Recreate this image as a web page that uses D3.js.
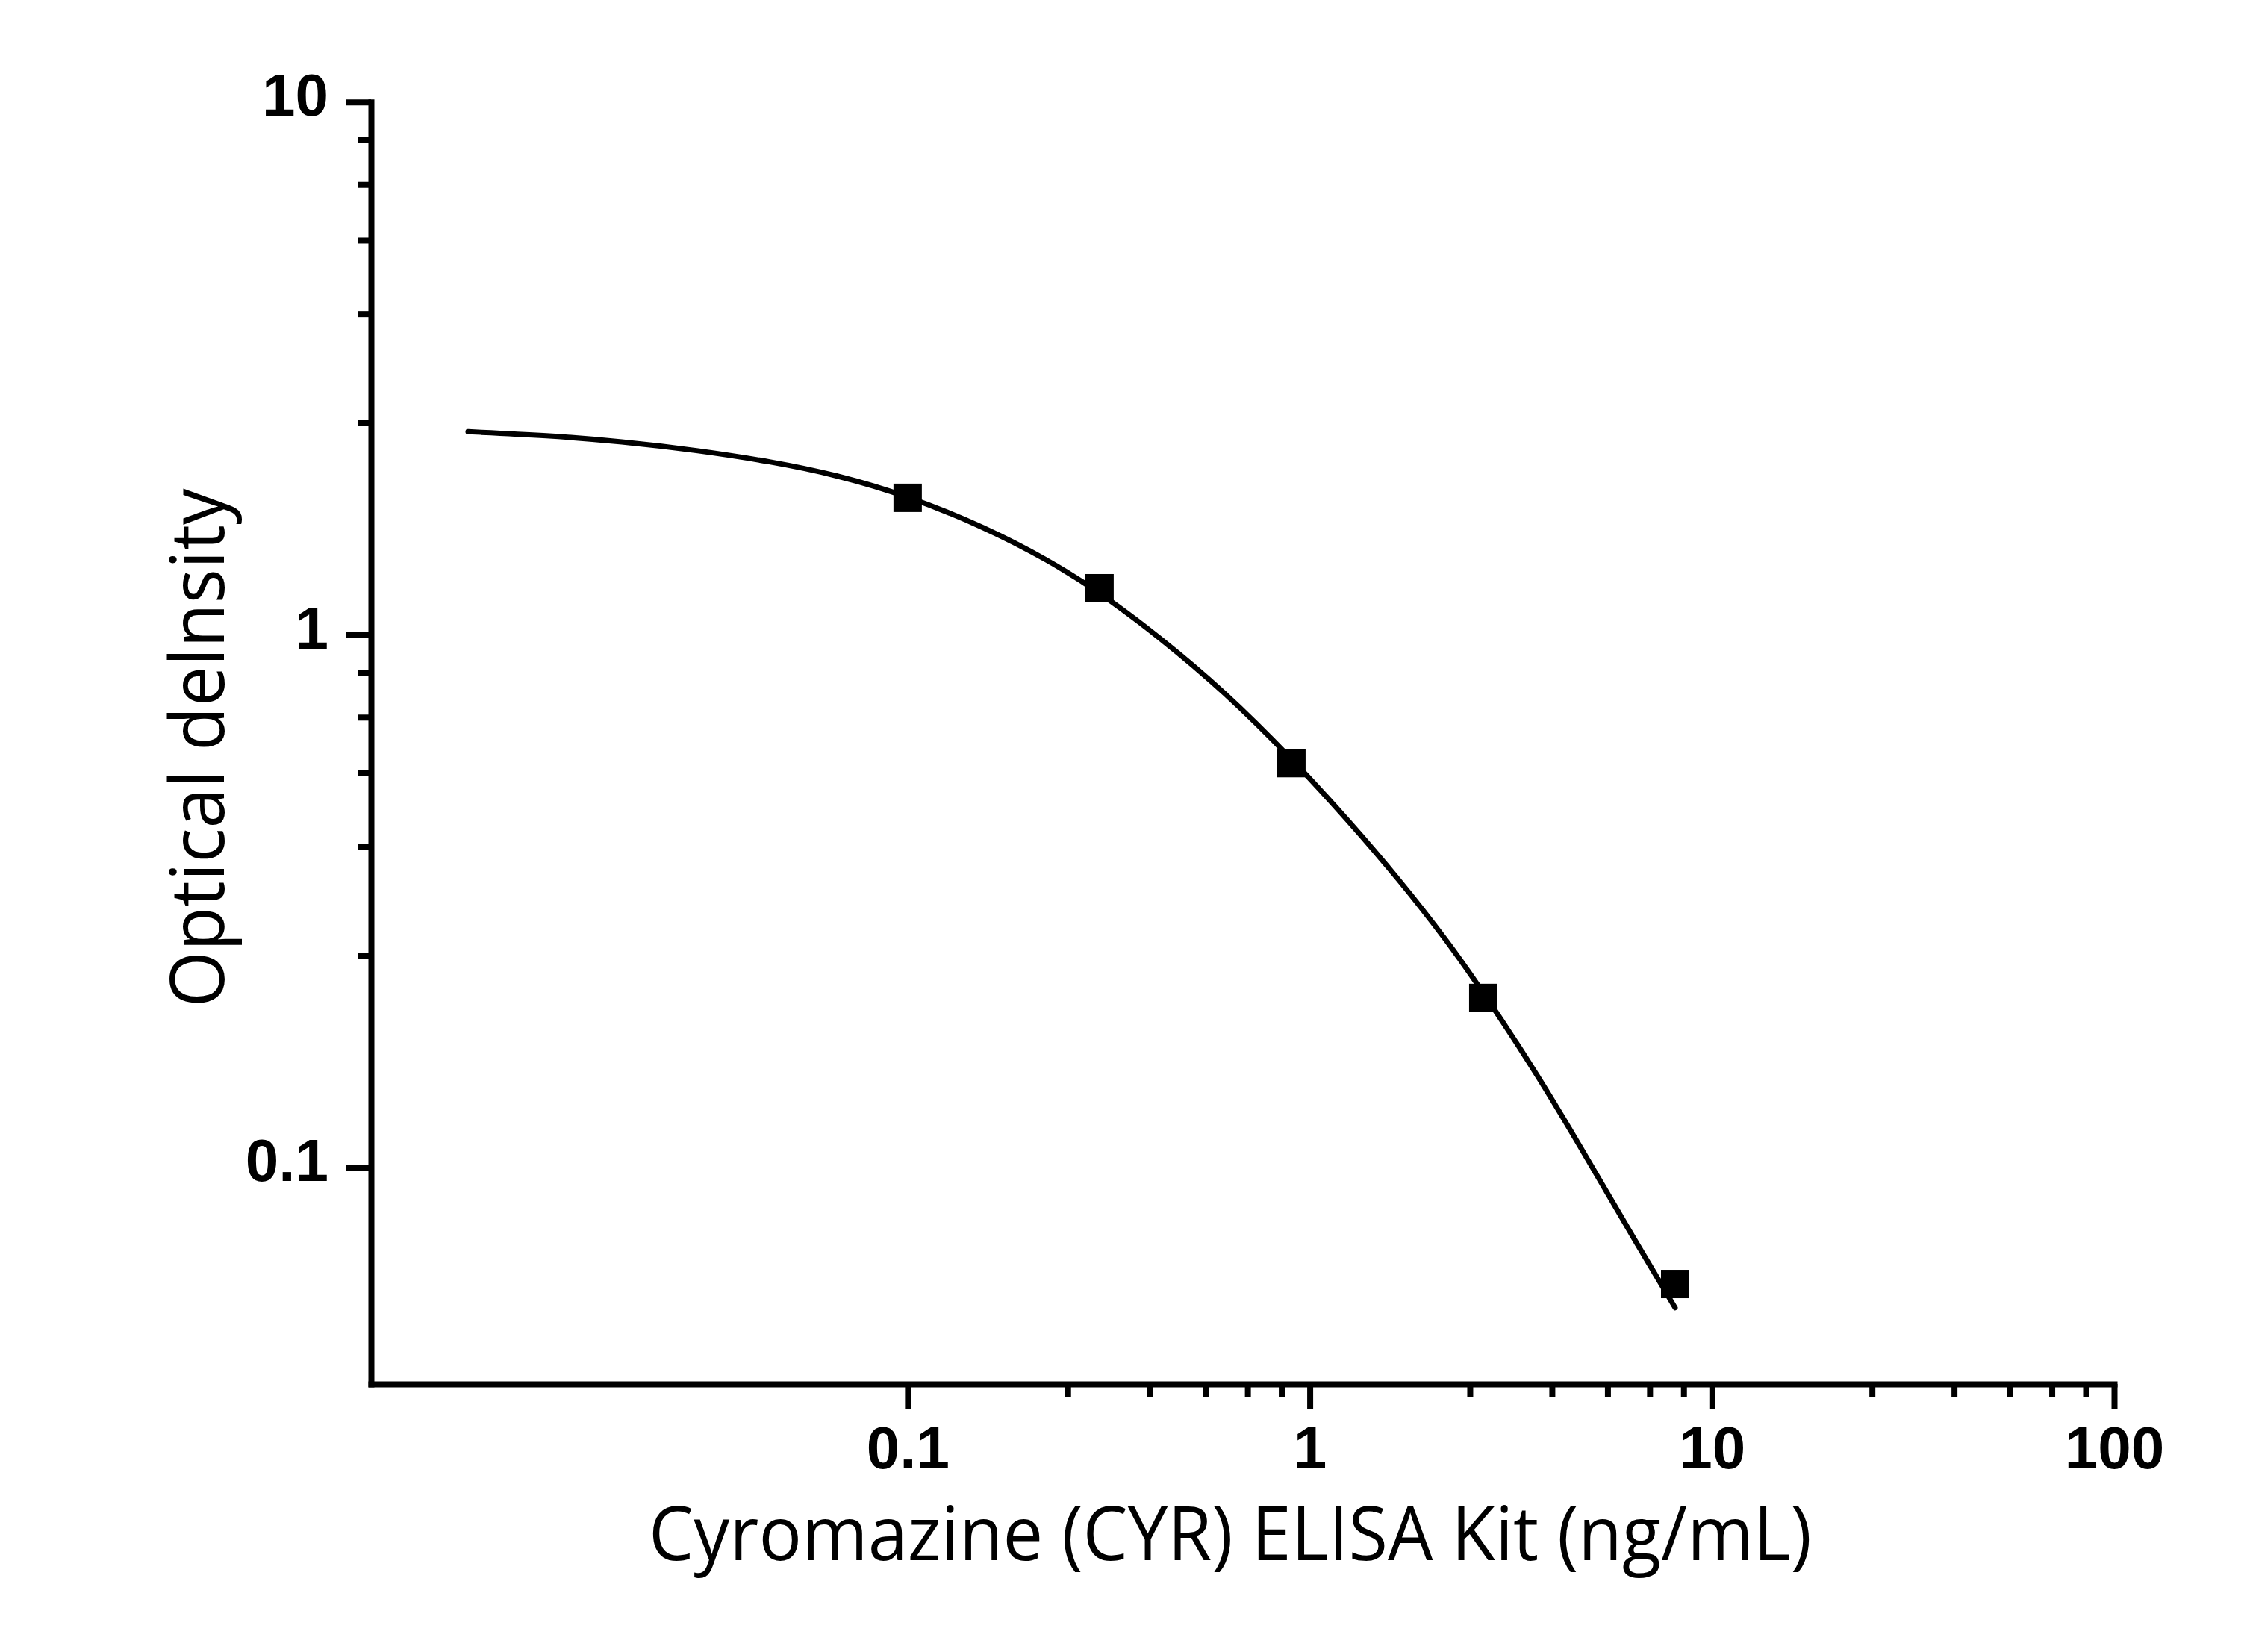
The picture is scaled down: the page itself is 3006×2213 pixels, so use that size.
<!DOCTYPE html>
<html>
<head>
<meta charset="utf-8">
<script src="https://cdn.jsdelivr.net/npm/d3@7"></script>
<style>
  body { margin: 0; background: #ffffff; }
</style>
</head>
<body>
<div id="graph"></div>
<script>
// measured standards (ng/mL vs OD)
let concX = [0.1, 0.3, 0.9, 2.7, 8.1];
let odY = [1.807, 1.2225, 0.574, 0.208, 0.0604];

// fitted curve
let curveX = [0.00807, 0.01269, 0.01946, 0.02985, 0.04576, 0.06637, 0.1005, 0.156, 0.2226,
  0.3013, 0.4223, 0.6126, 0.9042, 1.251, 1.659, 2.209, 2.712, 3.689, 4.913, 6.513, 8.098];
let curveY = [2.405, 2.367, 2.305, 2.221, 2.114, 1.997, 1.821, 1.59, 1.384,
  1.2, 0.9902, 0.783, 0.5843, 0.4467, 0.3487, 0.2648, 0.2121, 0.1491, 0.1035, 0.07177, 0.05453];

// axis ranges and ticks
let xDomain = [0.00463, 100];
let yDomain = [0.0392, 10];
let xMajor = [0.1, 1, 10, 100];
let xMinor = [0.25, 0.4, 0.55, 0.7, 0.85, 2.5, 4, 5.5, 7, 8.5, 25, 40, 55, 70, 85];
let yMajor = [0.1, 1, 10];
let yMinor = [0.25, 0.4, 0.55, 0.7, 0.85, 2.5, 4, 5.5, 7, 8.5];
let xLabels = ["0.1", "1", "10", "100"];
let yLabels = ["0.1", "1", "10"];

let xTitle = "Cyromazine (CYR) ELISA Kit (ng/mL)";
let yTitle = "Optical delnsity";

let W = 3006, H = 2213;
let plot = { left: 497, right: 2832, top: 136.7, bottom: 1854 };

let svg = d3
  .select("#graph")
  .append("svg")
  .attr("width", W)
  .attr("height", H);

svg.append("rect").attr("width", W).attr("height", H).attr("fill", "#ffffff");

let x = d3.scaleLog().domain(xDomain).range([plot.left, plot.right]);
let y = d3.scaleLog().domain(yDomain).range([plot.bottom, plot.top]);

//minor ticks first, no labels
svg
  .append("g")
  .attr("class", "minor")
  .attr("transform", "translate(0," + plot.bottom + ")")
  .call(d3.axisBottom(x).tickValues(xMinor).tickSize(17).tickSizeOuter(0).tickFormat(""));
svg
  .append("g")
  .attr("class", "minor")
  .attr("transform", "translate(" + plot.left + ",0)")
  .call(d3.axisLeft(y).tickValues(yMinor).tickSize(17).tickSizeOuter(0).tickFormat(""));

//major ticks with labels
let xAxis = svg
  .append("g")
  .attr("id", "xAxis")
  .attr("transform", "translate(0," + plot.bottom + ")")
  .call(
    d3.axisBottom(x)
      .tickValues(xMajor)
      .tickSize(34)
      .tickSizeOuter(0)
      .tickFormat((d, i) => xLabels[i])
  );
xAxis.selectAll("text").attr("y", 113).attr("dy", 0);

let yAxis = svg
  .append("g")
  .attr("id", "yAxis")
  .attr("transform", "translate(" + plot.left + ",0)")
  .call(
    d3.axisLeft(y)
      .tickValues(yMajor)
      .tickSize(34)
      .tickSizeOuter(0)
      .tickFormat((d, i) => yLabels[i])
  );
yAxis.selectAll("text").attr("x", -57).attr("dy", 18);

svg.selectAll(".domain, .tick line")
  .attr("stroke", "#000")
  .attr("stroke-width", 8)
  .attr("stroke-linecap", "square");
svg.selectAll(".tick line").attr("stroke-linecap", "butt");
svg.selectAll(".minor .domain").remove();

svg.selectAll("#xAxis text, #yAxis text")
  .attr("fill", "#000")
  .style("font-family", "'Liberation Sans', Arial, sans-serif")
  .style("font-weight", "bold")
  .style("font-size", "80px");

// fitted curve, basis spline smooths the read-off points
let line = d3
  .line()
  .x((d) => x(d[0]))
  .y((d) => y(d[1]))
  .curve(d3.curveBasis);

svg
  .append("path")
  .datum(d3.zip(curveX, curveY))
  .attr("d", line)
  .attr("fill", "none")
  .attr("stroke", "#000")
  .attr("stroke-width", 7)
  .attr("stroke-linecap", "round");

// square markers
let size = 38;
svg
  .append("g")
  .selectAll("rect")
  .data(d3.zip(concX, odY))
  .enter()
  .append("rect")
  .attr("x", (d) => x(d[0]) - size / 2)
  .attr("y", (d) => y(d[1]) - size / 2)
  .attr("width", size)
  .attr("height", size)
  .attr("fill", "#000");

// axis titles
svg
  .append("text")
  .attr("x", 1648)
  .attr("y", 2090)
  .attr("text-anchor", "middle")
  .attr("textLength", 1558)
  .attr("lengthAdjust", "spacingAndGlyphs")
  .style("font-family", "'Open Sans', 'Noto Sans', sans-serif")
  .style("font-size", "100px")
  .attr("fill", "#000")
  .text(xTitle);

svg
  .append("text")
  .attr("transform", "translate(300,1002) rotate(-90)")
  .attr("text-anchor", "middle")
  .attr("textLength", 695)
  .attr("lengthAdjust", "spacingAndGlyphs")
  .style("font-family", "'Open Sans', 'Noto Sans', sans-serif")
  .style("font-size", "100px")
  .attr("fill", "#000")
  .text(yTitle);
</script>
</body>
</html>
